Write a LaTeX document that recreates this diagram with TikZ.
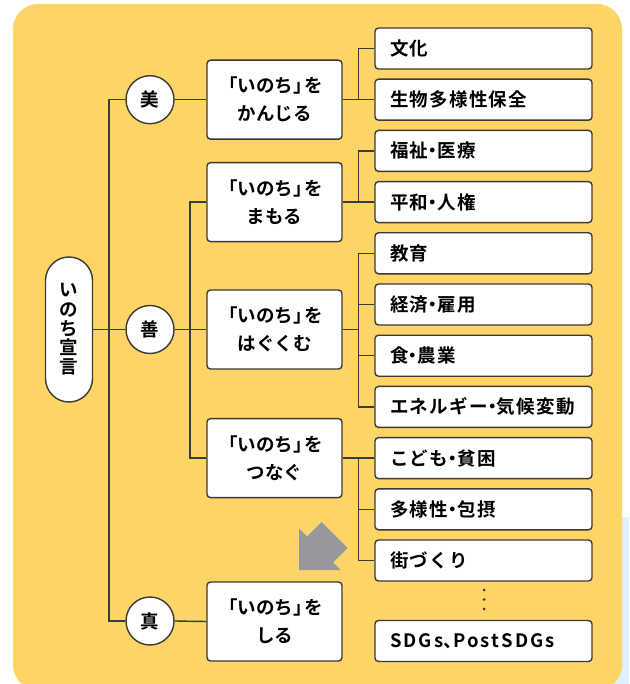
\documentclass[tikz,border=0pt]{standalone}
\usepackage{fontspec}
\newfontfamily\jpm{Noto Sans CJK JP Bold}
\newfontfamily\jpml{Noto Sans CJK JP Bold}[LetterSpace=7]
\newfontfamily\jpmw{Noto Sans CJK JP Bold}[LetterSpace=11]
\newcommand\nakaguro{\makebox[0.5em][c]{・}}
\newcommand\touten{\makebox[0.55em][l]{、}}
\newcommand\kakkoL{\makebox[0.6em][r]{「}}
\newcommand\kakkoR{\makebox[0.6em][l]{」}}
\newcommand\inochi{\kakkoL いのち\kakkoR を}
\definecolor{bgyellow}{HTML}{FDD466}
\definecolor{bgblue}{HTML}{DDF0FB}
\definecolor{linec}{HTML}{3C3A36}
\definecolor{arrowgray}{HTML}{97989B}
\tikzset{
  conn/.style={draw=linec, line width=1.4pt},
  pillbox/.style={draw=linec, line width=1.4pt, fill=white, rounded corners=23.5pt,
    minimum width=47pt, minimum height=145pt, inner sep=0pt, align=center,
    font=\jpm\fontsize{18.5}{19.2}\selectfont},
  circ/.style={circle, draw=linec, line width=1.4pt, fill=white, minimum size=48pt,
    inner sep=0pt, font=\jpm\fontsize{18.5}{20}\selectfont},
  midbox/.style={draw=linec, line width=1.4pt, fill=white, rounded corners=3.5pt,
    minimum width=135pt, minimum height=79pt, inner sep=0pt, align=center,
    font=\jpm\fontsize{18.5}{28}\selectfont},
  leafbox/.style={draw=linec, line width=1.4pt, fill=white, rounded corners=3.5pt,
    minimum width=217pt, minimum height=41pt, inner xsep=15pt, inner ysep=0pt,
    text width=187pt, align=left, font=\jpml\fontsize{18.5}{20}\selectfont},
}
\begin{document}
\begin{tikzpicture}[x=1pt,y=-1pt]
\useasboundingbox (0,0) rectangle (629,684);
% backgrounds
\fill[bgblue] (560,517) rectangle (629,684);
\fill[bgyellow, rounded corners=25pt] (13,4) rectangle (622,690);
% gray arrow
\fill[arrowgray] (299,528.5) -- (307,536.5) -- (321.5,522) -- (347.5,548) -- (333,562.5) -- (340.5,570) -- (299,570) -- cycle;
% nodes
\node[pillbox] (root) at (69,329.5) {い\\の\\ち\\宣\\言};
\node[circ] (bi) at (150,99.7) {美};
\node[circ] (zen) at (150,329.5) {善};
\node[circ] (shin) at (150,621) {真};
\node[midbox] (m1) at (274.5,99.7) {\inochi\\かんじる};
\node[midbox] (m2) at (274.5,202.1) {\inochi\\まもる};
\node[midbox] (m3) at (274.5,329.5) {\inochi\\はぐくむ};
\node[midbox] (m4) at (274.5,458.1) {\inochi\\つなぐ};
\node[midbox] (m5) at (274.5,621.5) {\inochi\\しる};
\node[leafbox] (l0) at (483.5,48.5) {文化};
\node[leafbox] (l1) at (483.5,99.7) {生物多様性保全};
\node[leafbox] (l2) at (483.5,150.9) {福祉\nakaguro 医療};
\node[leafbox] (l3) at (483.5,202.1) {平和\nakaguro 人権};
\node[leafbox] (l4) at (483.5,253.3) {教育};
\node[leafbox] (l5) at (483.5,304.5) {経済\nakaguro 雇用};
\node[leafbox] (l6) at (483.5,355.7) {食\nakaguro 農業};
\node[leafbox] (l7) at (483.5,406.9) {エネルギー\nakaguro 気候変動};
\node[leafbox] (l8) at (483.5,458.1) {こども\nakaguro 貧困};
\node[leafbox] (l9) at (483.5,509.3) {多様性\nakaguro 包摂};
\node[leafbox] (l10) at (483.5,560.5) {街づくり};
\node[leafbox, font=\jpmw\fontsize{18.5}{20}\selectfont] (l11) at (483.5,641) {SDGs\touten PostSDGs};
% junction coordinates
\coordinate (tx) at (109,0);
\coordinate (zx) at (190,0);
\coordinate (jx) at (358.5,0);
% connectors
\draw[conn] (root.east) -- (zen.west);
\draw[conn] (bi.west) -| (tx |- shin.west) -- (shin.west);
\draw[conn] (bi.east) -- (m1.west);
\draw[conn] (shin.east) -- (m5.west);
\draw[conn] (zen.east) -- (m3.west);
\draw[conn] (m2.west) -| (zx |- m4.west) -- (m4.west);
\draw[conn] (m1.east) -- (l1.west);
\draw[conn] (l0.west) -| (jx |- l1.west);
\draw[conn] (m2.east) -- (l3.west);
\draw[conn] (l2.west) -| (jx |- l3.west);
\draw[conn] (m3.east) -- (m3.east -| jx);
\draw[conn] (l4.west) -| (jx |- l7.west) -- (l7.west);
\draw[conn] (l5.west) -- (l5.west -| jx);
\draw[conn] (l6.west) -- (l6.west -| jx);
\draw[conn] (m4.east) -- (l8.west);
\draw[conn] (l8.west -| jx) |- (l10.west);
\draw[conn] (l9.west) -- (l9.west -| jx);
% vertical ellipsis
\node[circle, fill=linec, inner sep=0pt, minimum size=3pt] (d1) at (484,590) {};
\node[circle, fill=linec, inner sep=0pt, minimum size=3pt] (d2) at (484,599.5) {};
\node[circle, fill=linec, inner sep=0pt, minimum size=3pt] (d3) at (484,609) {};
\end{tikzpicture}
\end{document}
